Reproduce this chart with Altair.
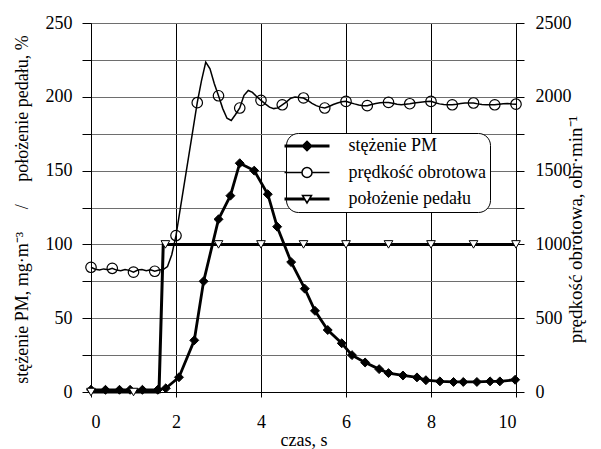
import altair as alt
import pandas as pd

FONT = "Liberation Serif"
NB = "\u00a0"

# ---- data ----
# PM concentration (left axis, mg/m3)
pm_t = [0, 0.34, 0.67, 0.92, 1.21, 1.57, 1.76, 2.07, 2.43, 2.65, 3.0, 3.28, 3.5, 3.84,
        4.16, 4.38, 4.71, 5.03, 5.27, 5.57, 5.9, 6.14, 6.45, 6.78, 7.0, 7.34, 7.67,
        7.88, 8.21, 8.53, 8.76, 9.08, 9.39, 9.62, 9.98]
pm_v = [1.5, 1.5, 1.5, 1.5, 1.5, 1.5, 2.5, 10, 35, 75, 117, 133, 155, 150,
        134, 112, 88, 70, 55, 42, 33, 25, 20, 15.5, 12.8, 11.2, 9.9,
        8, 7.2, 6.8, 6.8, 6.8, 7.2, 7.2, 8.3]

# engine speed (right axis, rpm), sampled every 0.1 s
speed_t = [0.0, 0.1, 0.2, 0.3, 0.4, 0.5, 0.6, 0.7, 0.8, 0.9,
           1.0, 1.1, 1.2, 1.3, 1.4, 1.5, 1.6, 1.7, 1.8, 1.9,
           2.0, 2.1, 2.2, 2.3, 2.4, 2.5, 2.6, 2.7, 2.8, 2.9,
           3.0, 3.1, 3.2, 3.3, 3.4, 3.5, 3.6, 3.7, 3.8, 3.9,
           4.0, 4.1, 4.2, 4.3, 4.4, 4.5, 4.6, 4.7, 4.8, 4.9,
           5.0, 5.1, 5.2, 5.3, 5.4, 5.5, 5.6, 5.7, 5.8, 5.9,
           6.0, 6.1, 6.2, 6.3, 6.4, 6.5, 6.6, 6.7, 6.8, 6.9,
           7.0, 7.1, 7.2, 7.3, 7.4, 7.5, 7.6, 7.7, 7.8, 7.9,
           8.0, 8.1, 8.2, 8.3, 8.4, 8.5, 8.6, 8.7, 8.8, 8.9,
           9.0, 9.1, 9.2, 9.3, 9.4, 9.5, 9.6, 9.7, 9.8, 9.9, 10.0]
speed_v = [845, 832, 826, 834, 828, 838, 826, 822, 830, 824,
           812, 826, 830, 822, 828, 818, 826, 830, 850, 930,
           1060, 1240, 1420, 1600, 1780, 1960, 2110, 2235, 2190, 2090,
           2007, 1920, 1855, 1840, 1880, 1924, 2010, 2043, 2030, 2000,
           1976, 1952, 1930, 1920, 1925, 1946, 1966, 1990, 1998, 1996,
           1992, 1975, 1956, 1940, 1930, 1924, 1934, 1948, 1958, 1966,
           1969, 1960, 1952, 1945, 1940, 1940, 1948, 1955, 1960, 1962,
           1962, 1957, 1950, 1947, 1950, 1953, 1958, 1962, 1965, 1968,
           1969, 1960, 1952, 1948, 1946, 1946, 1950, 1955, 1958, 1958,
           1958, 1952, 1948, 1946, 1946, 1946, 1950, 1953, 1955, 1952, 1950]

# pedal position (left axis, %)
pedal_t = [0, 1, 1.6, 1.7, 1.75, 3, 4, 5, 6, 7, 8, 9, 10]
pedal_v = [0, 0, 0, 100, 100, 100, 100, 100, 100, 100, 100, 100, 100]
pedal_mark_t = [0, 1, 1.75, 3, 4, 5, 6, 7, 8, 9, 10]
pedal_mark_v = [0, 0, 100, 100, 100, 100, 100, 100, 100, 100, 100]

series_names = ["stężenie PM", "prędkość obrotowa", "położenie pedału"]

x_ticks = [0, 2, 4, 6, 8, 10]
left_ticks = [0, 25, 50, 75, 100, 125, 150, 175, 200, 225, 250]
right_ticks = [0, 250, 500, 750, 1000, 1250, 1500, 1750, 2000, 2250, 2500]

pm_df = pd.DataFrame({"t": pm_t, "v": pm_v})
speed_df = pd.DataFrame({"t": speed_t, "v": speed_v})
pedal_df = pd.DataFrame({"t": pedal_t, "v": pedal_v})
pedal_mark_df = pd.DataFrame({"t": pedal_mark_t, "v": pedal_mark_v})
legend_df = pd.DataFrame({"series": series_names})

# ---- scales & axes ----
xscale = alt.Scale(domain=[0, 10], nice=False, zero=False)
xaxis = alt.Axis(values=x_ticks, format="d", grid=True, gridColor="black", gridWidth=1,
                 domainColor="black", tickColor="black", tickSize=5,
                 labelFont=FONT, labelFontSize=18, labelColor="black", labelPadding=16,
                 title="czas, s", titleFont=FONT, titleFontSize=18, titleFontWeight="normal",
                 titleColor="black", titleY=53, titleBaseline="alphabetic")

lscale = alt.Scale(domain=[0, 250], nice=False)
left_title = "stężenie PM, mg·m⁻³" + NB * 5 + "/" + NB * 5 + "położenie pedału, %"
laxis = alt.Axis(orient="left", values=left_ticks, format="d",
                 labelExpr="datum.value % 50 == 0 ? datum.label : ''",
                 grid=True, gridColor="#6e6e6e", gridWidth=1,
                 domainColor="black", tickColor="black", tickSize=9,
                 labelFont=FONT, labelFontSize=18, labelColor="black", labelPadding=10,
                 title=left_title,
                 titleFont=FONT, titleFontSize=18, titleFontWeight="normal", titleColor="black",
                 titleAngle=270, titleX=-69, titleY=186, titleBaseline="middle", titleAlign="center")

rscale = alt.Scale(domain=[0, 2500], nice=False)
raxis = alt.Axis(orient="right", values=right_ticks, format="d",
                 labelExpr="datum.value % 500 == 0 ? datum.label : ''",
                 grid=False, domainColor="black", tickColor="black", tickSize=8,
                 labelFont=FONT, labelFontSize=18, labelColor="black", labelPadding=11,
                 title="prędkość obrotowa, obr·min⁻¹",
                 titleFont=FONT, titleFontSize=19, titleFontWeight="normal", titleColor="black",
                 titleAngle=270, titleX=59, titleY=206, titleBaseline="middle", titleAlign="center")

X = alt.X("t:Q", scale=xscale, axis=xaxis)
YL = alt.Y("v:Q", scale=lscale, axis=laxis)
YR = alt.Y("v:Q", scale=rscale, axis=raxis)

# ---- right-axis group: engine speed ----
speed_line = alt.Chart(speed_df).mark_line(color="black", strokeWidth=1.5).encode(x=X, y=YR)
speed_pts = alt.Chart(speed_df).transform_filter(
    "round(datum.t * 10) % 5 == 0"
).mark_point(shape="circle", size=110, filled=False, stroke="black",
             strokeWidth=1.2, opacity=1).encode(x=X, y=YR)
right_group = alt.layer(speed_line, speed_pts)

# ---- left-axis group: PM and pedal ----
pedal_line = alt.Chart(pedal_df).mark_line(color="black", strokeWidth=3).encode(x=X, y=YL)
pm_line = alt.Chart(pm_df).mark_line(color="black", strokeWidth=2.8).encode(x=X, y=YL)
pm_pts = alt.Chart(pm_df).mark_point(shape="diamond", size=80, filled=True, fill="black",
                                     stroke="black", strokeWidth=1, opacity=1).encode(x=X, y=YL)
pedal_pts = alt.Chart(pedal_mark_df).mark_point(shape="triangle-down", size=75, filled=True,
                                                fill="white", stroke="black", strokeWidth=1,
                                                opacity=1).encode(x=X, y=YL)

# legend symbols: line + marker drawn with strokes only (unit = sqrt(size)/2 = 5 px)
pm_path = ("M-4.5,-0.14H4.5M-4.5,0.14H4.5"
           " M0,-0.95L0.95,0L0,0.95L-0.95,0Z M0,-0.65L0.65,0L0,0.65L-0.65,0Z"
           " M0,-0.35L0.35,0L0,0.35L-0.35,0Z")
speed_path = "M-4.5,0H-1M1,0H4.5M1,0A1,1,0,1,1,-1,0A1,1,0,1,1,1,0Z"
pedal_path = ("M-4.5,-0.14H-0.52M0.52,-0.14H4.5M-4.5,0.14H-0.4M0.4,0.14H4.5"
              " M-0.9,-0.7L0.9,-0.7L0,0.8Z")

leg = alt.Legend(orient="none", legendX=195, legendY=110, title=None, padding=4,
                 cornerRadius=12, strokeColor="black", fillColor="white",
                 labelFont=FONT, labelFontSize=18, labelColor="black",
                 symbolSize=100, symbolStrokeWidth=1.5, symbolStrokeColor="black",
                 symbolFillColor="transparent",
                 symbolOffset=8, labelOffset=32.5, rowPadding=8.5)

legend_layer = alt.Chart(legend_df).transform_filter("false").mark_point(
    filled=False, stroke="black", strokeWidth=1.5, size=100, opacity=1
).encode(
    shape=alt.Shape("series:N", scale=alt.Scale(domain=series_names,
                                                range=[pm_path, speed_path, pedal_path]), legend=leg),
)

left_group = alt.layer(pedal_line, pm_line, pm_pts, pedal_pts, legend_layer)

chart = alt.layer(right_group, left_group).resolve_scale(y="independent").properties(
    width=425, height=369,
    autosize=alt.AutoSizeParams(type="none"),
    padding={"left": 91, "top": 23, "right": 85, "bottom": 57},
).configure(font=FONT).configure_axis(labelFont=FONT, titleFont=FONT).configure_legend(
    labelFont=FONT).configure_view(stroke=None)

chart.save("out.html", embed_options={"renderer": "svg", "actions": False})
